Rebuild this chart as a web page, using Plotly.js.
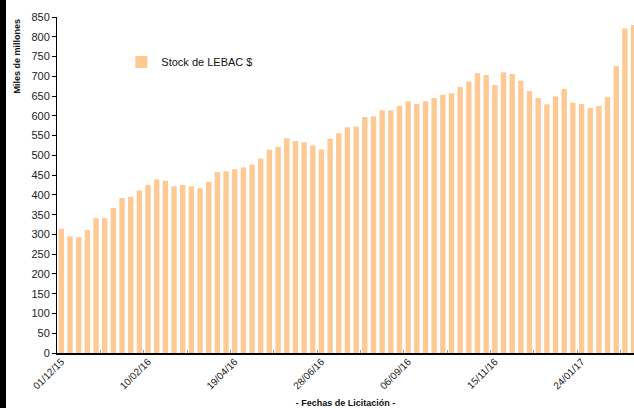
<!DOCTYPE html>
<html>
<head>
<meta charset="utf-8">
<script src="https://cdn.plot.ly/plotly-3.0.1.min.js"></script>
<style>html,body{margin:0;padding:0;background:#fff;}#chart{width:634px;height:408px;}</style>
</head>
<body>
<div id="chart"></div>
<script>
// Weekly LEBAC auctions, index 0 = 01/12/15
const seriesName = "Stock de LEBAC $";
const stockValues = [
  314, 295, 293, 311, 341, 341, 367, 392, 395, 411,
  425, 439, 436, 422, 425, 421, 417, 433, 458, 460,
  465, 469, 477, 492, 514, 521, 543, 536, 533, 525,
  515, 542, 556, 571, 573, 597, 599, 614, 614, 625,
  636, 630, 637, 645, 653, 657, 673, 686, 708, 703,
  678, 710, 706, 689, 663, 645, 629, 649, 668, 633,
  630, 620, 625, 647, 726, 821, 830
];
const tickLabels = ["01/12/15", "10/02/16", "19/04/16", "28/06/16", "06/09/16", "15/11/16", "24/01/17"];
const labelStep = 10;   // one label every 10 auctions
const minorStep = 5;    // tick marks every 5 auctions (between categories)

const xIdx = stockValues.map((_, i) => i);
const labelPos = tickLabels.map((_, i) => i * labelStep);
const tickPos = [];
for (let b = -0.5; b < stockValues.length; b += minorStep) tickPos.push(b);

const xRange = [-0.5, 66.05];

const trace = {
  type: "bar",
  x: xIdx,
  y: stockValues,
  name: seriesName,
  width: 0.62,
  marker: {color: "#FFC994", line: {width: 0}},
  showlegend: true,
  hoverinfo: "y"
};

const layout = {
  width: 634,
  height: 408,
  margin: {l: 57, r: 0, t: 17, b: 55},
  paper_bgcolor: "#ffffff",
  plot_bgcolor: "#ffffff",
  font: {family: "Liberation Sans, Arial, sans-serif", color: "#222", size: 11},
  showlegend: true,
  legend: {
    x: 0.1115, y: 0.866, xanchor: "left", yanchor: "middle",
    bgcolor: "rgba(0,0,0,0)", font: {size: 11, color: "#111"}
  },
  xaxis: {
    range: xRange,
    tickmode: "array",
    tickvals: tickPos,
    showticklabels: false,
    ticks: "inside",
    ticklen: 3,
    tickcolor: "#999",
    showline: true,
    linecolor: "#000",
    linewidth: 1.5,
    showgrid: false,
    zeroline: false,
    title: {text: "- Fechas de Licitación -", font: {size: 9, color: "#111", family: "Liberation Sans, Arial, sans-serif", weight: "bold"}, standoff: 46}
  },
  xaxis2: {
    overlaying: "x",
    anchor: "y",
    side: "bottom",
    range: xRange,
    tickmode: "array",
    tickvals: labelPos,
    ticktext: tickLabels,
    tickangle: -45,
    ticks: "",
    showline: false,
    showgrid: false,
    zeroline: false,
    tickfont: {size: 10, color: "#222"}
  },
  yaxis: {
    range: [0, 850],
    dtick: 50,
    ticks: "outside",
    ticklen: 4,
    tickcolor: "#000",
    showline: true,
    linecolor: "#000",
    linewidth: 1,
    showgrid: false,
    zeroline: false,
    tickfont: {size: 11, color: "#222"}
  },
  annotations: [{
    text: "<b>Miles de millones</b>",
    xref: "paper", yref: "paper",
    x: -0.071, y: 1.0,
    xanchor: "center", yanchor: "top",
    textangle: -90,
    showarrow: false,
    font: {size: 9, color: "#111"}
  }],
  shapes: [{
    type: "rect", xref: "paper", yref: "paper",
    x0: -57 / 577, x1: -51 / 577,
    y0: -55 / 336, y1: 1 + 17 / 336,
    fillcolor: "#000", line: {width: 0}
  }]
};

// a dummy trace on xaxis2 so its labels are drawn
const labelTrace = {type: "scatter", x: labelPos, y: labelPos.map(() => null), xaxis: "x2", yaxis: "y", showlegend: false, hoverinfo: "skip", mode: "markers"};

Plotly.newPlot("chart", [trace, labelTrace], layout, {displayModeBar: false, staticPlot: true});
</script>
</body>
</html>
